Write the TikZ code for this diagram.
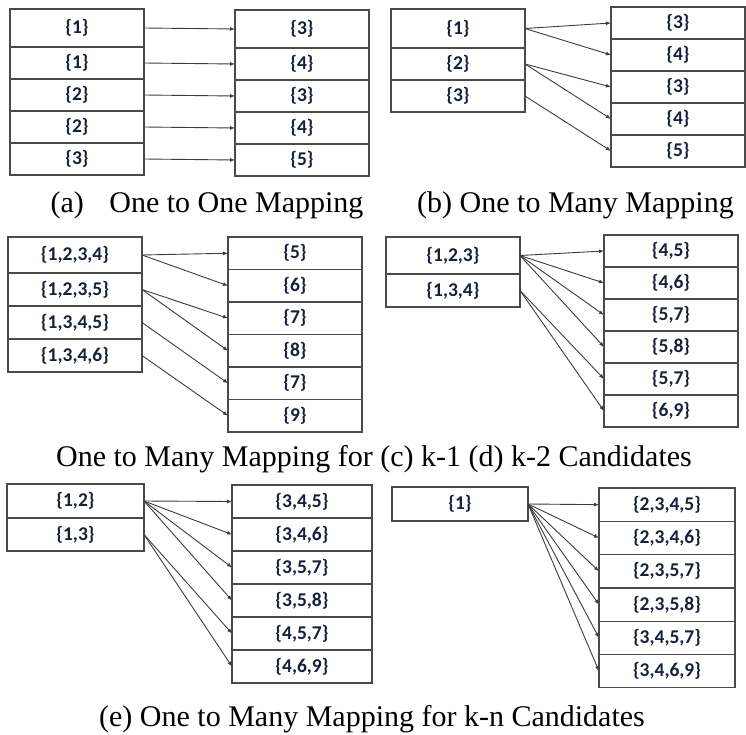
\documentclass[tikz,border=0pt]{standalone}
\usepackage{fontspec}
\setmainfont{Liberation Serif}
\newfontfamily\cellfont{Carlito}[BoldFont={Carlito Bold}]
\usepackage{tikz}
\usetikzlibrary{arrows.meta,positioning}
\definecolor{cellBd}{HTML}{4A4A4A}
\definecolor{cellInk}{HTML}{17203A}
\definecolor{mapLine}{HTML}{3C3C3C}
\tikzset{
  cell/.style={
    rectangle, draw=cellBd, line width=1.3pt,
    outer sep=0pt, inner sep=0pt,
    minimum width=134pt, minimum height=32pt,
    text=cellInk, font=\cellfont\bfseries\fontsize{19.5}{22}\selectfont
  },
  map/.style={-{Latex[length=5pt,width=4pt]}, line width=0.9pt, draw=mapLine},
  caption/.style={font=\fontsize{30}{36}\selectfont}
}

\begin{document}
\begin{tikzpicture}[x=1pt,y=-1pt]
  \useasboundingbox (0,0) rectangle (746,735);

  % (a) one to one
  \node[cell, minimum height=38pt, anchor=north west] (aL1) at (10,9) {\{1\}};
  \foreach \lab [count=\k from 2, remember=\k as \p (initially 1)] in {1,2,2,3}
    \node[cell, below=0pt of aL\p] (aL\k) {\{\lab\}};
  \node[cell, minimum height=38pt, anchor=north west] (aR1) at (235,10) {\{3\}};
  \foreach \lab [count=\k from 2, remember=\k as \p (initially 1)] in {4,3,4,5}
    \node[cell, below=0pt of aR\p] (aR\k) {\{\lab\}};
  \foreach \s/\t in {1/1,2/2,3/3,4/4,5/5}
    \draw[map] (aL\s.east) -- (aR\t.west);
  \node[caption] (capA) at (207,205) {(a)\hspace{0.85em}One to One Mapping};

  % (b) one to many
  \node[cell, minimum height=39pt, anchor=north west] (bL1) at (391,9) {\{1\}};
  \foreach \lab [count=\k from 2, remember=\k as \p (initially 1)] in {2,3}
    \node[cell, below=0pt of bL\p] (bL\k) {\{\lab\}};
  \node[cell, anchor=north west] (bR1) at (611,7) {\{3\}};
  \foreach \lab [count=\k from 2, remember=\k as \p (initially 1)] in {4,3,4,5}
    \node[cell, below=0pt of bR\p] (bR\k) {\{\lab\}};
  \foreach \s/\t in {1/1,1/2,2/3,2/4,3/5}
    \draw[map] (bL\s.east) -- (bR\t.west);
  \node[caption] (capB) at (575.5,205) {(b) One to Many Mapping};

  % (c) k-1 candidates
  \node[cell, minimum height=36pt, anchor=north west] (cL1) at (8,237) {\{1,2,3,4\}};
  \foreach \lab [count=\k from 2, remember=\k as \p (initially 1)] in {{1,2,3,5},{1,3,4,5},{1,3,4,6}}
    \node[cell, minimum height=33pt, below=0pt of cL\p] (cL\k) {\{\lab\}};
  \node[cell, minimum height=32.5pt, anchor=north west] (cR1) at (228,237) {\{5\}};
  \foreach \lab [count=\k from 2, remember=\k as \p (initially 1)] in {6,7,8,7,9}
    \node[cell, minimum height=32.5pt, below=0pt of cR\p] (cR\k) {\{\lab\}};
  \foreach \s/\t in {1/1,1/2,2/3,2/4,3/5,4/6}
    \draw[map] (cL\s.east) -- (cR\t.west);

  % (d) k-2 candidates
  \node[cell, minimum height=37pt, anchor=north west] (dL1) at (386,237) {\{1,2,3\}};
  \node[cell, minimum height=33pt, below=0pt of dL1] (dL2) {\{1,3,4\}};
  \node[cell, anchor=north west] (dR1) at (604,235) {\{4,5\}};
  \foreach \lab [count=\k from 2, remember=\k as \p (initially 1)] in {{4,6},{5,7},{5,8},{5,7},{6,9}}
    \node[cell, below=0pt of dR\p] (dR\k) {\{\lab\}};
  \foreach \s/\t in {1/1,1/2,1/3,1/4,2/5,2/6}
    \draw[map] (dL\s.east) -- (dR\t.west);
  \node[caption] (capCD) at (374,459) {One to Many Mapping for (c) k-1 (d) k-2 Candidates};

  % (e) k-n candidates, left pair
  \node[cell, minimum width=137pt, minimum height=34pt, anchor=north west] (eL1) at (7,484) {\{1,2\}};
  \node[cell, minimum width=137pt, minimum height=33pt, below=0pt of eL1] (eL2) {\{1,3\}};
  \node[cell, minimum width=140pt, minimum height=33pt, anchor=north west] (eR1) at (232,485) {\{3,4,5\}};
  \foreach \lab [count=\k from 2, remember=\k as \p (initially 1)] in {{3,4,6},{3,5,7},{3,5,8},{4,5,7},{4,6,9}}
    \node[cell, minimum width=140pt, minimum height=33pt, below=0pt of eR\p] (eR\k) {\{\lab\}};
  \foreach \s/\t in {1/1,1/2,1/3,1/4,2/5,2/6}
    \draw[map] (eL\s.east) -- (eR\t.west);

  % (e) k-n candidates, right pair
  \node[cell, minimum width=136pt, minimum height=34pt, anchor=north west] (nL1) at (392,487) {\{1\}};
  \node[cell, minimum width=136pt, minimum height=33.3pt, anchor=north west] (nR1) at (599,488) {\{2,3,4,5\}};
  \foreach \lab [count=\k from 2, remember=\k as \p (initially 1)] in {{2,3,4,6},{2,3,5,7},{2,3,5,8},{3,4,5,7},{3,4,6,9}}
    \node[cell, minimum width=136pt, minimum height=33.3pt, below=0pt of nR\p] (nR\k) {\{\lab\}};
  \foreach \t in {1,...,6}
    \draw[map] (nL1.east) -- (nR\t.west);
  \node[caption] (capE) at (372,719) {(e) One to Many Mapping for k-n Candidates};
\end{tikzpicture}
\end{document}
